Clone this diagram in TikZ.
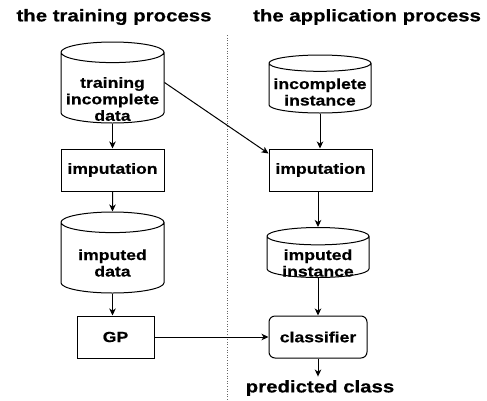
\documentclass[tikz,border=0pt]{standalone}
\usepackage{fontspec}
\newfontfamily\diafont{Liberation Sans}[FakeStretch=1.2, BoldFeatures={FakeBold=0.6}]
\usetikzlibrary{shapes.geometric,arrows.meta}

\tikzset{
  box/.style={draw, line width=1pt, minimum height=42pt, inner sep=2pt,
    font=\diafont\bfseries\fontsize{14.7}{16.5}\selectfont},
  db/.style={draw, line width=1pt, cylinder, shape border rotate=90, aspect=#1,
    anchor=shape center, inner sep=1pt},
  db/.default=0.2,
  dbtext/.style={align=center, inner sep=0pt,
    font=\diafont\bfseries\fontsize{14.7}{16.5}\selectfont},
  heading/.style={font=\diafont\bfseries\fontsize{17}{20}\selectfont},
  arr/.style={-{Stealth[length=7pt,width=6.5pt,inset=2pt]}, line width=1pt}
}

\begin{document}
\begin{tikzpicture}[x=1pt,y=-1pt]
    \useasboundingbox (0,0) rectangle (487,400);

    % headings and separator
    \node[heading] (htrain) at (114,17) {the training process};
    \node[heading] (happ) at (367,17) {the application process};
    \coordinate (septop) at (227,35);
    \coordinate (sepbot) at (227,400);
    \draw [dotted, line width=0.6pt, gray!80!black] (septop) -- (sepbot);

    % training side
    \node[db, minimum height=81pt] (train) at (112.5,82.5) {\hspace*{101pt}};
    \node[dbtext] (train-t) at ([yshift=-16.5pt]train.shape center) {training\\incomplete\\data};
    \node[box, minimum width=103pt] (imp1) at (112.5,170) {imputation};
    \node[db, minimum height=81pt] (dat) at (112.5,252.5) {\hspace*{101pt}};
    \node[dbtext] (dat-t) at ([yshift=-10.5pt]dat.shape center) {imputed\\data};
    \node[box, minimum width=77pt] (gp) at (115.5,337) {GP};

    % application side
    \node[db=0.16, minimum height=58pt] (inst) at (320,84) {\hspace*{100pt}};
    \node[dbtext] (inst-t) at ([yshift=-8pt]inst.shape center) {incomplete\\instance};
    \node[box, minimum width=103pt] (imp2) at (320.5,170) {imputation};
    \node[db=0.17, minimum height=50pt] (inst2) at (318,252.5) {\hspace*{100pt}};
    \node[dbtext] (inst2-t) at ([yshift=-10.5pt]inst2.shape center) {imputed\\instance};
    \node[box, minimum width=98pt, rounded corners=6pt] (cls) at (318,337) {classifier};
    \node[heading] (pred) at (320,388) {predicted class};

    % connectors
    \draw [arr] (train.south) -- (imp1.north);
    \draw [arr] (imp1.south) -- (dat.north);
    \draw [arr] (dat.south) -- (dat.south |- gp.north);
    \draw [arr] (train.shape center -| train.east) -- ([yshift=-5pt]imp2.north west);
    \draw [arr] (inst.south) -- (inst.south |- imp2.north);
    \draw [arr] (inst2.north |- imp2.south) -- (inst2.north);
    \draw [arr] (inst2.south) -- (inst2.south |- cls.north);
    \draw [arr] (gp.east) -- (gp.east -| cls.west);
    \draw [arr] (cls.south) -- (cls.south |- pred.north);
\end{tikzpicture}
\end{document}
